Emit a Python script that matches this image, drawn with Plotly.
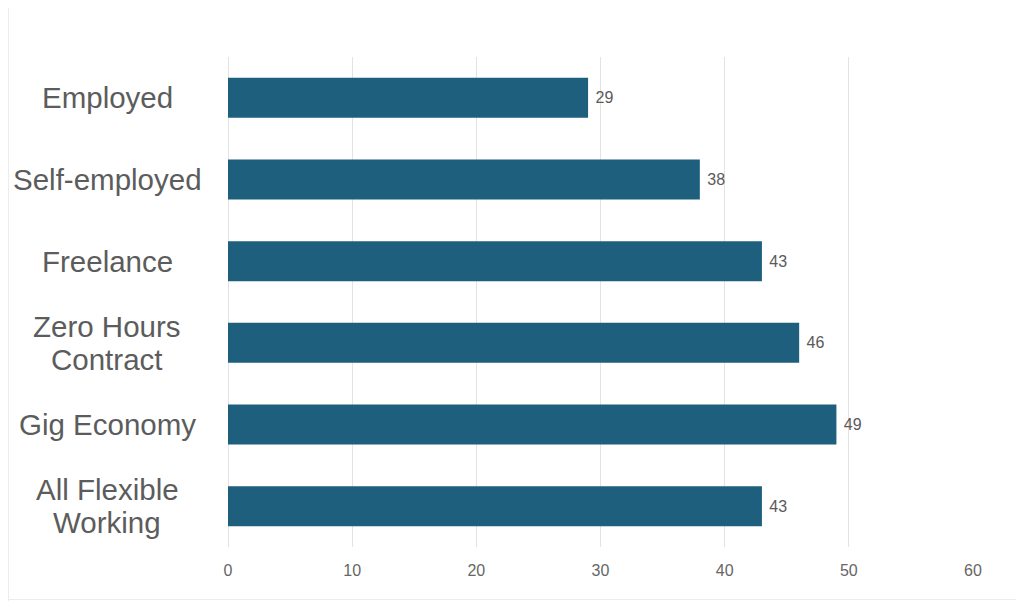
import plotly.graph_objects as go

categories = ["Employed", "Self-employed", "Freelance", "Zero Hours<br>Contract", "Gig Economy", "All Flexible<br>Working"]
values = [29, 38, 43, 46, 49, 43]
x_ticks = [0, 10, 20, 30, 40, 50, 60]

OFF = 8  # page body margin
W, H = 1024 - OFF, 601 - OFF
L = 228 - OFF
T = 57 - OFF
R = W - (973 - OFF)
B = H - (547 - OFF)
pw = W - L - R
ph = H - T - B

FONT = "Liberation Sans, Arial"

fig = go.Figure()
fig.add_trace(go.Bar(
    x=values, y=categories, orientation="h",
    marker=dict(color="#1e5f7e", line=dict(width=0)),
    text=values, texttemplate=" %{x}", textposition="outside",
    textfont=dict(family=FONT, size=16, color="#5a5a5a"),
    cliponaxis=False, width=0.49,
))

label_x = (107 - 228) / pw
line_gap = 33
for c in categories:
    lines = c.split("<br>")
    n = len(lines)
    for i, ln in enumerate(lines):
        fig.add_annotation(
            x=label_x, xref="paper", y=c, yref="y",
            text=ln, showarrow=False, xanchor="center", yanchor="middle", align="center",
            yshift=((n - 1) / 2 - i) * line_gap,
            font=dict(family=FONT, size=29.5, color="#5c5c5c"),
        )

# faint frame lines (left and bottom edges)
fig.add_shape(type="line", xref="paper", yref="paper",
              x0=(0.5 - L) / pw, x1=(0.5 - L) / pw, y0=(T + ph - H) / ph, y1=(T + ph) / ph,
              line=dict(color="#ececec", width=1))
fig.add_shape(type="line", xref="paper", yref="paper",
              x0=(0 - L) / pw, x1=(W - L) / pw, y0=(T + ph - H + 1.5) / ph, y1=(T + ph - H + 1.5) / ph,
              line=dict(color="#ececec", width=1))

fig.update_layout(
    width=W, height=H,
    margin=dict(l=L, r=R, t=T, b=B),
    paper_bgcolor="white", plot_bgcolor="white",
    showlegend=False,
    xaxis=dict(range=[0, 60], tickvals=x_ticks, showgrid=True, gridcolor="#e3e3e3", gridwidth=1,
               zeroline=True, zerolinecolor="#e3e3e3", zerolinewidth=1,
               tickfont=dict(family=FONT, size=16, color="#666666"),
               ticks="", showline=False, fixedrange=True, ticklabelstandoff=12),
    yaxis=dict(autorange="reversed", showticklabels=False, showgrid=False, zeroline=False,
               ticks="", showline=False),
    bargap=0.51,
)

fig.write_html("out.html")
